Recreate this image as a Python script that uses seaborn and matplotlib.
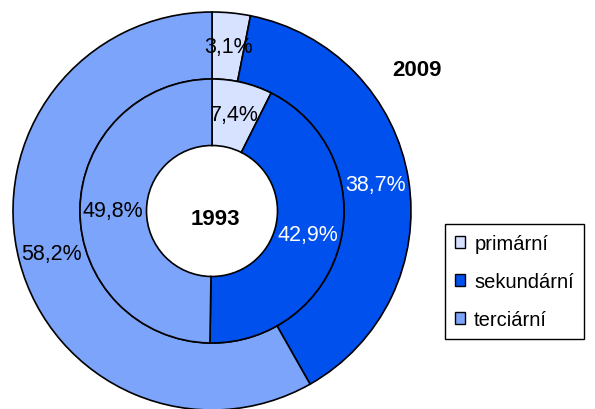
import matplotlib.pyplot as plt
import seaborn as sns
import numpy as np
from matplotlib.patches import Patch

# data
categories = ['primární', 'sekundární', 'terciární']
values_2009 = [3.1, 38.7, 58.2]
values_1993 = [7.4, 42.9, 49.8]
labels_2009 = ['3,1%', '38,7%', '58,2%']
labels_1993 = ['7,4%', '42,9%', '49,8%']
colors = ['#D6E2FF', '#0050EE', '#7DA4FB']
text_colors = ['black', 'white', 'black']

sns.set_theme(style="white")
plt.rcParams['font.family'] = ['Liberation Sans', 'DejaVu Sans']
plt.rcParams['text.color'] = 'black'

fig = plt.figure(figsize=(5.95, 4.1), dpi=100)
ax = fig.add_axes([0, 0, 1, 1])

R = 199.0
cx, cy = 212.0, 212.0
r_out, r_mid, r_hole = 1.0, 132 / R, 65.5 / R
w_ring = r_out - r_mid
w_inner = r_mid - r_hole

wedge_kw = dict(edgecolor='black', linewidth=1.2)
w_out, _ = ax.pie(values_2009, radius=r_out, colors=colors, startangle=90,
                  counterclock=False, wedgeprops=dict(width=w_ring, **wedge_kw))
w_in, _ = ax.pie(values_1993, radius=r_mid, colors=colors, startangle=90,
                 counterclock=False, wedgeprops=dict(width=w_inner, **wedge_kw))


def put_labels(wedges, labels, r):
    for w, lab, tc in zip(wedges, labels, text_colors):
        ang = np.deg2rad((w.theta1 + w.theta2) / 2)
        ax.text(r * np.cos(ang), r * np.sin(ang), lab, ha='center', va='center',
                fontsize=15.5, color=tc)


put_labels(w_out, labels_2009, (r_out + r_mid) / 2)
put_labels(w_in, labels_1993, (r_mid + r_hole) / 2)

ax.text(3 / R, -8 / R, '1993', ha='center', va='center', fontsize=16,
        fontweight='bold', color='black')
ax.text((417 - cx) / R, (cy - 71) / R, '2009', ha='center', va='center',
        fontsize=16, fontweight='bold', color='black')

ax.set_xlim(-cx / R, (595 - cx) / R)
ax.set_ylim(-(410 - cy) / R, cy / R)
ax.set_aspect('auto')
ax.axis('off')

handles = [Patch(facecolor=c, edgecolor='black', linewidth=1.0) for c in colors]
leg = fig.legend(handles, categories, loc='upper left',
                 bbox_to_anchor=(445 / 595, 1 - 225 / 410), fontsize=14.5,
                 frameon=True, fancybox=False, edgecolor='black', framealpha=1,
                 handlelength=0.5, handleheight=0.5, handletextpad=0.45,
                 labelspacing=0.95, borderpad=0.5, borderaxespad=0,
                 labelcolor='black')
leg.get_frame().set_linewidth(1.0)

plt.savefig('out.png', dpi=100)
